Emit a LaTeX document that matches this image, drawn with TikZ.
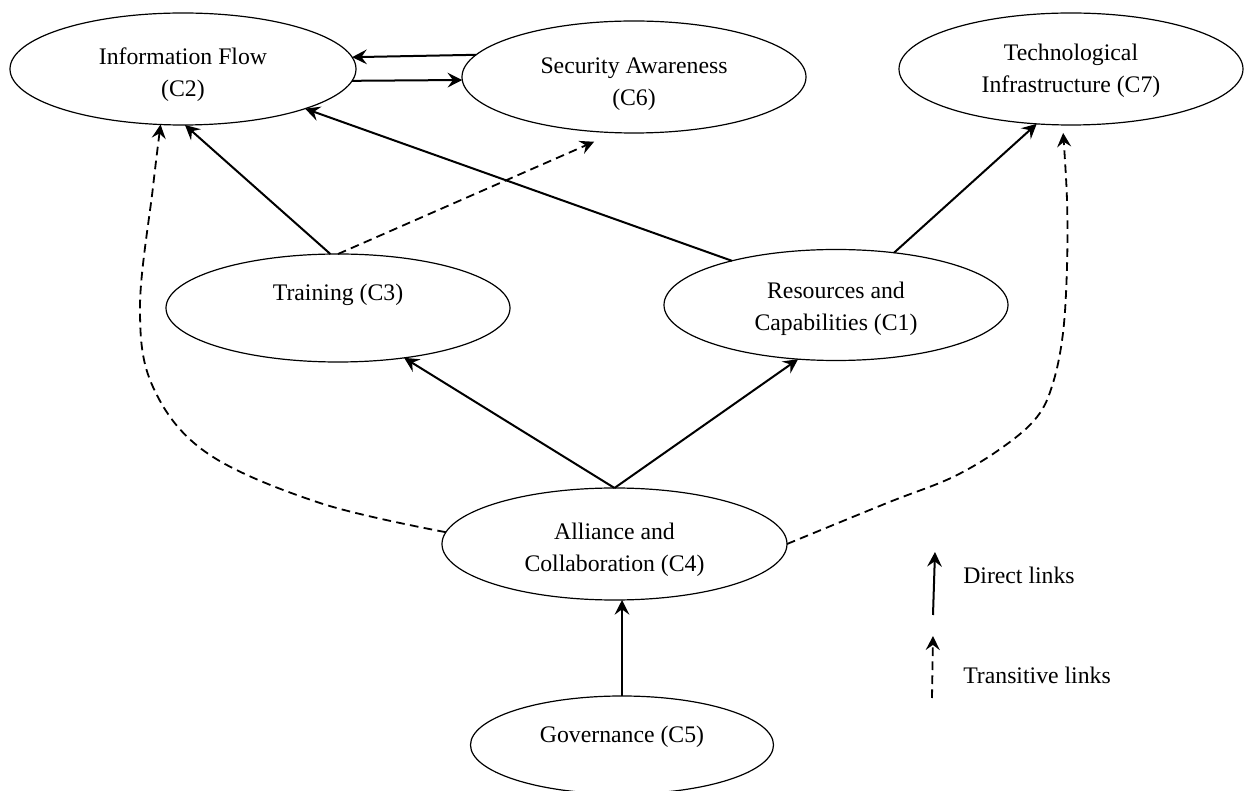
\documentclass[tikz,border=0pt]{standalone}
\usepackage{fontspec}
\setmainfont{Liberation Serif}
\usetikzlibrary{shapes.geometric, arrows.meta}
\begin{document}
\begin{tikzpicture}[x=0.75pt, y=-0.75pt,
  ell/.style={draw, ellipse, line width=0.9pt, inner sep=0pt, outer sep=0pt,
    minimum width=258pt, minimum height=84pt},
  txt/.style={inner sep=0pt, align=center, font=\fontsize{17.8}{24}\selectfont},
  arr/.style={line width=1.5pt, -{Stealth[length=11pt, width=11pt, inset=4pt]}},
  darr/.style={line width=1.35pt, dash pattern=on 6.5pt off 4pt,
    -{Stealth[length=10.5pt, width=10.5pt, inset=3.8pt]}}
]
\useasboundingbox (0,0) rectangle (1247,791);

% nodes
\node[ell, minimum width=259.5pt, label={[txt, yshift=-4pt]center:Information Flow\\(C2)}] (c2) at (183,69) {};
\node[ell, label={[txt, yshift=-5.5pt]center:Security Awareness\\(C6)}] (c6) at (634,77) {};
\node[ell, label={[txt, yshift=-1pt]center:Technological\\Infrastructure (C7)}] (c7) at (1071,69) {};
\node[ell, minimum height=81pt, label={[txt, yshift=9.75pt]center:Training (C3)}] (c3) at (338,308) {};
\node[ell, minimum height=83.25pt, label={[txt, yshift=-3pt]center:Resources and\\Capabilities (C1)}] (c1) at (836,305) {};
\node[ell, minimum width=258.75pt, label={[txt, yshift=-4pt]center:Alliance and\\Collaboration (C4)}] (c4) at (614.5,544) {};
\node[ell, minimum width=227.25pt, minimum height=73.5pt, label={[txt, yshift=6pt]center:Governance (C5)}] (c5) at (622,745) {};

% direct links
\draw[arr] (c6.172.1) -- (c2.4.7);
\draw[arr] (c2.-4.4) -- (c6.181.7);
\draw[arr] (c3.98.1) -- (c2.-88);
\draw[arr] (c1.157.6) -- (c2.-18.4);
\draw[arr] (c1.42) -- (c7.-122);
\draw[arr] (c4.north) -- (c3.-37);
\draw[arr] (c4.north) -- (c1.-125.7);
\draw[arr] (c5.north) -- (c5.north |- c4.south);

% transitive links
\draw[darr, shorten >=17pt] (c3.north) -- (c6.-109.6);
\draw[darr] plot[smooth, tension=0.6] coordinates {(c4.176.3) (320,503) (207,453) (153,387) (140,307) (153,187) (c2.-112.3)};
\draw[darr] plot[smooth, tension=0.6] coordinates {(c4.east) (887,503) (953,477) (1003,447) (1037,417) (1053,383) (1063,333) (1067,267) (1067,200) ([yshift=-6pt]c7.-98)};

% legend
\coordinate (d1) at (933,615);
\coordinate (d2) at (935,552);
\draw[arr] (d1) -- (d2);
\node[txt, anchor=west] (dl) at (963,575) {Direct links};
\coordinate (t1) at (932,698);
\coordinate (t2) at (933,636);
\draw[darr] (t1) -- (t2);
\node[txt, anchor=west] (tl) at (963,675) {Transitive links};
\end{tikzpicture}
\end{document}
